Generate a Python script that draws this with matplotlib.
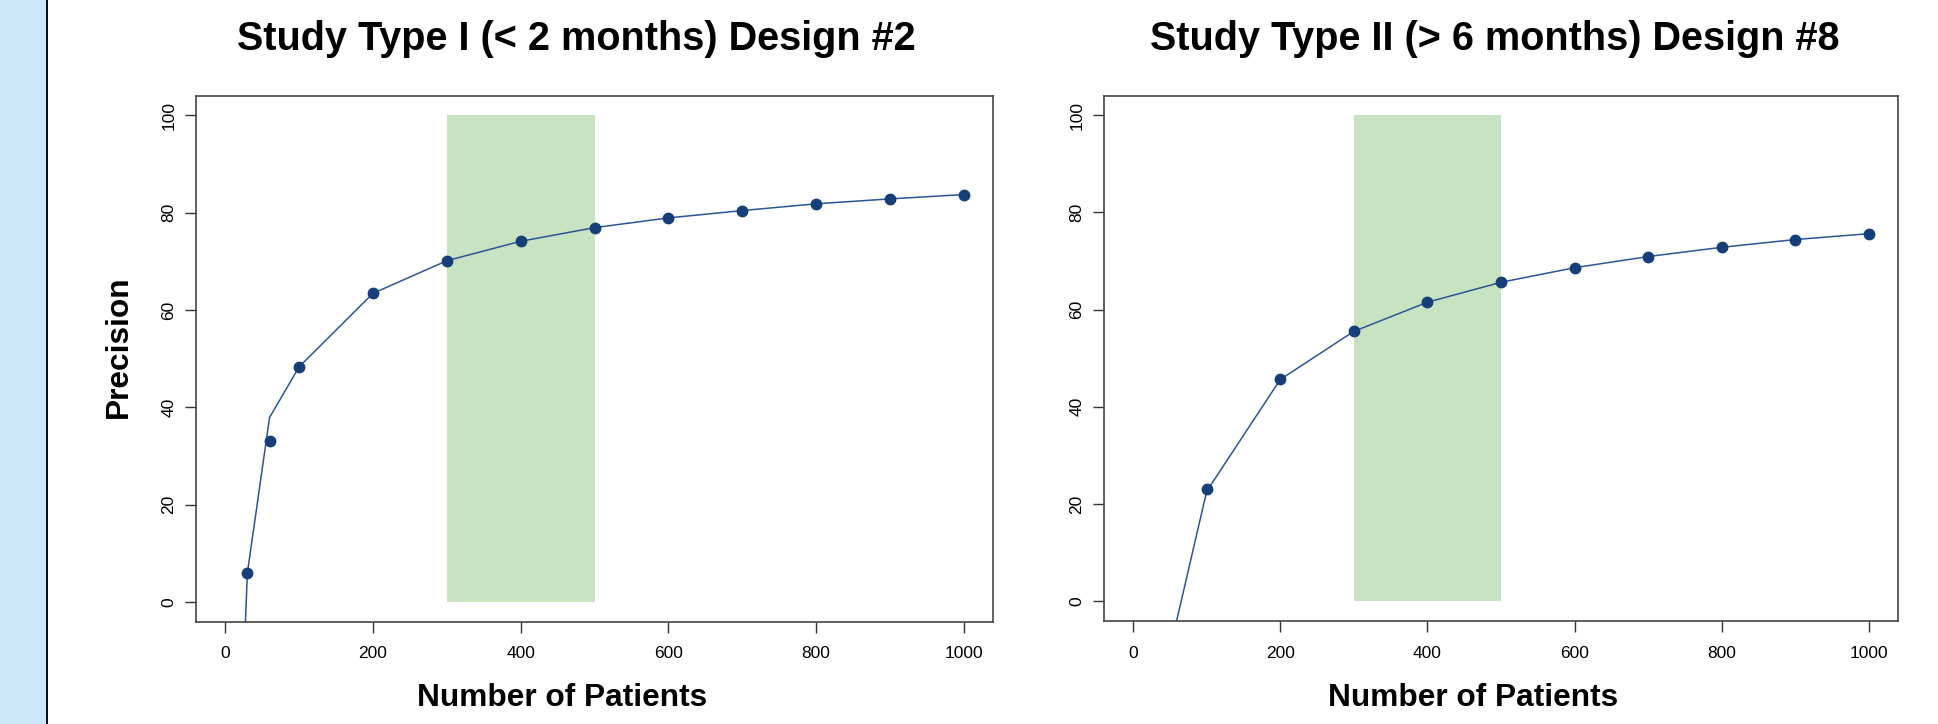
import matplotlib
matplotlib.use("Agg")
import matplotlib.pyplot as plt
from matplotlib.patches import Rectangle

plt.rcParams['font.family'] = ['Liberation Sans', 'DejaVu Sans']

# ---------------- data ----------------
titles = ["Study Type I (< 2 months) Design #2", "Study Type II (> 6 months) Design #8"]
x_label = "Number of Patients"
y_label = "Precision"

# panel 1: observed points and fitted curve
n_pts_1 = [30, 60, 100, 200, 300, 400, 500, 600, 700, 800, 900, 1000]
prec_pts_1 = [5.9, 33.0, 48.3, 63.4, 70.1, 74.1, 76.9, 78.9, 80.4, 81.8, 82.8, 83.7]
n_curve_1 = [20, 30, 60, 100, 200, 300, 400, 500, 600, 700, 800, 900, 1000]
prec_curve_1 = [-32.0, 6.0, 37.9, 48.3, 63.4, 70.1, 74.1, 76.9, 78.9, 80.4, 81.8, 82.8, 83.7]

# panel 2
n_pts_2 = [100, 200, 300, 400, 500, 600, 700, 800, 900, 1000]
prec_pts_2 = [23.1, 45.6, 55.5, 61.5, 65.6, 68.6, 70.9, 72.8, 74.4, 75.6]
n_curve_2 = [50, 100, 200, 300, 400, 500, 600, 700, 800, 900, 1000]
prec_curve_2 = [-10.0, 22.6, 45.6, 55.5, 61.5, 65.6, 68.6, 70.9, 72.8, 74.4, 75.6]

# recommended range band
band_n = [300, 500]
band_prec = [0, 100]

x_ticks = [0, 200, 400, 600, 800, 1000]
y_ticks = [0, 20, 40, 60, 80, 100]

# ---------------- figure ----------------
W, H = 1938, 724
fig = plt.figure(figsize=(W / 100, H / 100), dpi=100)
fig.patch.set_facecolor('white')

# left light-blue strip and black rule
fig.patches.append(Rectangle((0, 0), 45.5 / W, 1, transform=fig.transFigure,
                             facecolor='#cbe7f9', edgecolor='none', zorder=0))
fig.patches.append(Rectangle((45.5 / W, 0), 2.2 / W, 1, transform=fig.transFigure,
                             facecolor='#111111', edgecolor='none', zorder=1))

def px_box(l, r, t, b):
    return [l / W, 1 - b / H, (r - l) / W, (b - t) / H]

boxes = [px_box(195.7, 993.3, 95.7, 621.5), px_box(1103.7, 1898.3, 95.7, 620.5)]
series = [(n_pts_1, prec_pts_1, n_curve_1, prec_curve_1),
          (n_pts_2, prec_pts_2, n_curve_2, prec_curve_2)]

line_col = '#2b5597'
pt_col = '#163e78'
band_col = '#c7e3c1'

for box, (nx, py, cx, cy) in zip(boxes, series):
    ax = fig.add_axes(box)
    ax.set_xlim(-40, 1040)
    ax.set_ylim(-4, 104)
    ax.add_patch(Rectangle((band_n[0], band_prec[0]), band_n[1] - band_n[0],
                           band_prec[1] - band_prec[0], facecolor=band_col,
                           edgecolor='none', zorder=1))
    ax.plot(cx, cy, color=line_col, lw=1.1, zorder=2)
    ax.plot(nx, py, 'o', color=pt_col, ms=7.5, mec=pt_col, zorder=3)
    ax.set_xticks(x_ticks)
    ax.set_yticks(y_ticks)
    ax.set_xticklabels([str(v) for v in x_ticks])
    ax.set_yticklabels([str(v) for v in y_ticks], rotation=90, va='center')
    ax.tick_params(axis='both', direction='out', length=8, width=1.0,
                   color='#333333', labelsize=12.5, labelcolor='black')
    ax.tick_params(axis='x', pad=10)
    ax.tick_params(axis='y', pad=6)
    for s in ax.spines.values():
        s.set_color('#444444')
        s.set_linewidth(1.2)

# titles
fig.text(576.6 / W, 1 - 50 / H, titles[0], ha='center', va='baseline',
         fontsize=28.5, fontweight='bold')
fig.text(1495 / W, 1 - 50 / H, titles[1], ha='center', va='baseline',
         fontsize=28.5, fontweight='bold')
# x labels
fig.text(562.5 / W, 1 - 706 / H, x_label, ha='center', va='baseline',
         fontsize=22.8, fontweight='bold')
fig.text(1472.7 / W, 1 - 706 / H, x_label, ha='center', va='baseline',
         fontsize=22.8, fontweight='bold')
# y label
fig.text(118.7 / W, 1 - 347 / H, y_label, ha='center', va='center', rotation=90,
         fontsize=22.8, fontweight='bold')

fig.savefig('out.png', dpi=100)
